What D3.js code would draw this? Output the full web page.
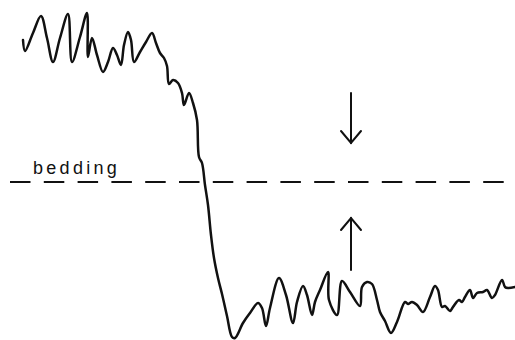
<!DOCTYPE html>
<html>
<head>
<meta charset="utf-8">
<script src="https://cdn.jsdelivr.net/npm/d3@7/dist/d3.min.js"></script>
<style>
  html, body { margin: 0; padding: 0; background: #fff; }
  svg { display: block; }
</style>
</head>
<body>
<svg id="chart" width="515" height="340"></svg>
<script>
// Profile across the bedding plane: position along the trace vs. signal level
const position = [0,2,10,18,24,30,37,45,49,57,64,65,69,74,80,85,90,94,98,101,105,108,111,117,123,129,133,137,141,144,146,150,155,159,161,166,170,174,176,179,182,185,188,191,195,199,204,209,212,220,227,235,239,243,247,256,263,270,274,280,284,289,292,297,305,306,314,319,327,337,339,344,349,354,357,362,368,374,382,385,389,394,400,407,412,415,419,422,427,430,436,439,442,447,450,454,460,464,469,472,479,482,485,492];
const signal   = [300,289,307,324,302,278,302,326,278,303,327,283,302,285,268,278,292,285,275,295,308,300,278,288,298,307,297,287,282,274,256,260,257,247,235,247,237,220,183,177,155,135,105,82,62,46,24,3,2,17,27,37,32,14,32,62,45,17,38,54,45,25,38,50,68,40,25,59,48,34,53,58,56,40,28,19,7,18,38,36,38,35,28,43,54,50,33,34,29,33,40,38,43,50,42,47,48,50,42,45,60,53,52,53];

// Bedding level and its extent
const beddingLevel = 158;
const beddingExtent = [-13, 485];
const beddingLabel = "bedding";

// Arrows pointing toward the bedding plane: [position, from level, to level]
const arrows = [
  [328, 247, 197],
  [328, 70, 122]
];

const svg = d3.select("#chart");
const x = d3.scaleLinear().domain([0, 492]).range([23, 515]);
const y = d3.scaleLinear().domain([0, 340]).range([340, 0]);

// Dashed bedding line
svg.append("line")
  .attr("x1", x(beddingExtent[0])).attr("x2", x(beddingExtent[1]))
  .attr("y1", y(beddingLevel)).attr("y2", y(beddingLevel))
  .attr("stroke", "#111").attr("stroke-width", 2)
  .attr("stroke-dasharray", "20.5 13.3");

svg.append("text")
  .attr("x", x(beddingExtent[0]) + 23)
  .attr("y", y(beddingLevel) - 8)
  .attr("font-family", "Liberation Sans, Arial, sans-serif")
  .attr("font-size", 18)
  .attr("letter-spacing", 3.3)
  .attr("fill", "#111")
  .text(beddingLabel);

// Profile trace
const pts = position.map((p, i) => [p, signal[i]]);
const line = d3.line()
  .x(d => x(d[0]))
  .y(d => y(d[1]))
  .curve(d3.curveCatmullRom.alpha(0.5));

svg.append("path")
  .attr("d", line(pts))
  .attr("fill", "none")
  .attr("stroke", "#111")
  .attr("stroke-width", 2.5)
  .attr("stroke-linejoin", "round")
  .attr("stroke-linecap", "round");

// Arrows with open chevron heads
arrows.forEach(([p, from, to]) => {
  const ax = x(p), y0 = y(from), y1 = y(to);
  const dir = y1 > y0 ? 1 : -1;
  const g = svg.append("g")
    .attr("stroke", "#111").attr("stroke-width", 2)
    .attr("fill", "none").attr("stroke-linecap", "round");
  g.append("line").attr("x1", ax).attr("x2", ax).attr("y1", y0).attr("y2", y1);
  g.append("path").attr("d",
    `M${ax - 10},${y1 - dir * 12} L${ax},${y1} L${ax + 10},${y1 - dir * 12}`);
});
</script>
</body>
</html>
